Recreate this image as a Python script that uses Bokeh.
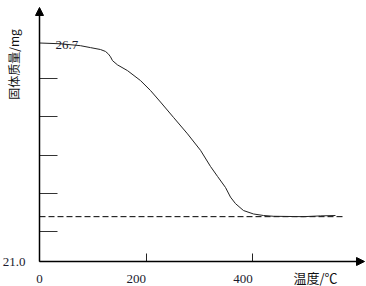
import numpy as np
from bokeh.plotting import figure
from bokeh.models import Range1d, FixedTicker, Arrow, NormalHead, Label
from bokeh.core.properties import value
from bokeh.embed import file_html
from bokeh.resources import INLINE

# data
temp = [0, 39.4, 76.9, 95.7, 114.4, 123.8, 129.5, 133.2, 137.0, 146.3, 165.1,
        189.5, 208.3, 227.0, 251.4, 277.7, 302.1, 320.8, 334.0, 349.0, 358.3,
        367.7, 382.7, 401.5, 420.3, 439.0, 495.3, 527.2, 555.3]
mass = [26.70, 26.68, 26.63, 26.58, 26.53, 26.48, 26.41, 26.34, 26.24, 26.13,
        25.98, 25.72, 25.46, 25.16, 24.76, 24.33, 23.90, 23.48, 23.22, 22.93,
        22.68, 22.51, 22.33, 22.24, 22.20, 22.18, 22.17, 22.19, 22.20]
final_mass = 22.17
final_line_temp = [0, 574]
x_ticks = [0, 200, 400]
x_tick_labels = ["0", "200", "400"]
y_ticks = [21.0, 21.78, 22.77, 23.77, 24.77, 25.77]
y_labels = {21.0: "21.0", 21.78: "", 22.77: "", 23.77: "", 24.77: "", 25.77: ""}
start_label = "26.7"
x_title = "温度/℃"
y_title = "固体质量/mg"

p = figure(width=366, height=286, output_backend="svg", toolbar_location=None,
           x_range=Range1d(-73.17, 613.5), y_range=Range1d(20.348, 27.809),
           min_border=0)
p.outline_line_color = None
p.grid.visible = False
p.background_fill_color = "white"

serif = "Liberation Serif"
cjk = "Noto Sans CJK SC"

xa = p.xaxis[0]
xa.fixed_location = 21.0
xa.ticker = FixedTicker(ticks=x_ticks)
xa.major_label_overrides = {t: "" for t in x_ticks}
xa.axis_line_color = None
xa.major_tick_in = 8
xa.major_tick_out = 0
xa.minor_tick_line_color = None
xa.major_tick_line_color = "#222222"

ya = p.yaxis[0]
ya.fixed_location = 0
ya.ticker = FixedTicker(ticks=y_ticks)
ya.major_label_overrides = y_labels
ya.axis_line_color = None
ya.major_tick_in = 18
ya.major_tick_out = 0
ya.minor_tick_line_color = None
ya.major_tick_line_color = "#333333"
ya.major_label_text_font = serif
ya.major_label_text_font_size = "13px"
ya.major_label_text_color = "#1a1a2e"
ya.major_label_standoff = 14

# axes drawn as arrows
p.add_layout(Arrow(end=NormalHead(size=8, fill_color="black", line_color="black"),
                   x_start=0, y_start=21.0, x_end=609.8, y_end=21.0,
                   line_color="black", line_width=1.5))
p.add_layout(Arrow(end=NormalHead(size=8, fill_color="black", line_color="black"),
                   x_start=0, y_start=21.0, x_end=0, y_end=27.627,
                   line_color="black", line_width=1.5))

# x tick labels (right-aligned to their ticks as in the picture)
p.text(x=x_ticks, y=[20.43] * len(x_ticks), text=x_tick_labels,
       text_font=value(serif), text_font_size="13px",
       text_align=["center", "right", "right"],
       text_baseline="bottom", text_color="#1a1a2e")

# dashed final mass line
p.line(final_line_temp, [final_mass, final_mass], line_color="black",
       line_width=1, line_dash="6 3")

# curve
p.line(temp, mass, line_color="#222222", line_width=1)

p.add_layout(Label(x=30, y=26.66, text=start_label, text_font=serif,
                   text_font_size="13px", text_baseline="middle",
                   text_color="#1a1a2e"))
p.add_layout(Label(x=476.5, y=20.583, text=x_title, text_font=cjk,
                   text_font_size="13px", text_baseline="middle",
                   text_color="#111111"))
p.add_layout(Label(x=-48.8, y=26.14, text=y_title, text_font=cjk,
                   text_font_size="12px", text_baseline="middle",
                   text_align="center", angle=np.pi / 2,
                   text_color="#111111"))

open("out.html", "w").write(file_html(p, INLINE))
